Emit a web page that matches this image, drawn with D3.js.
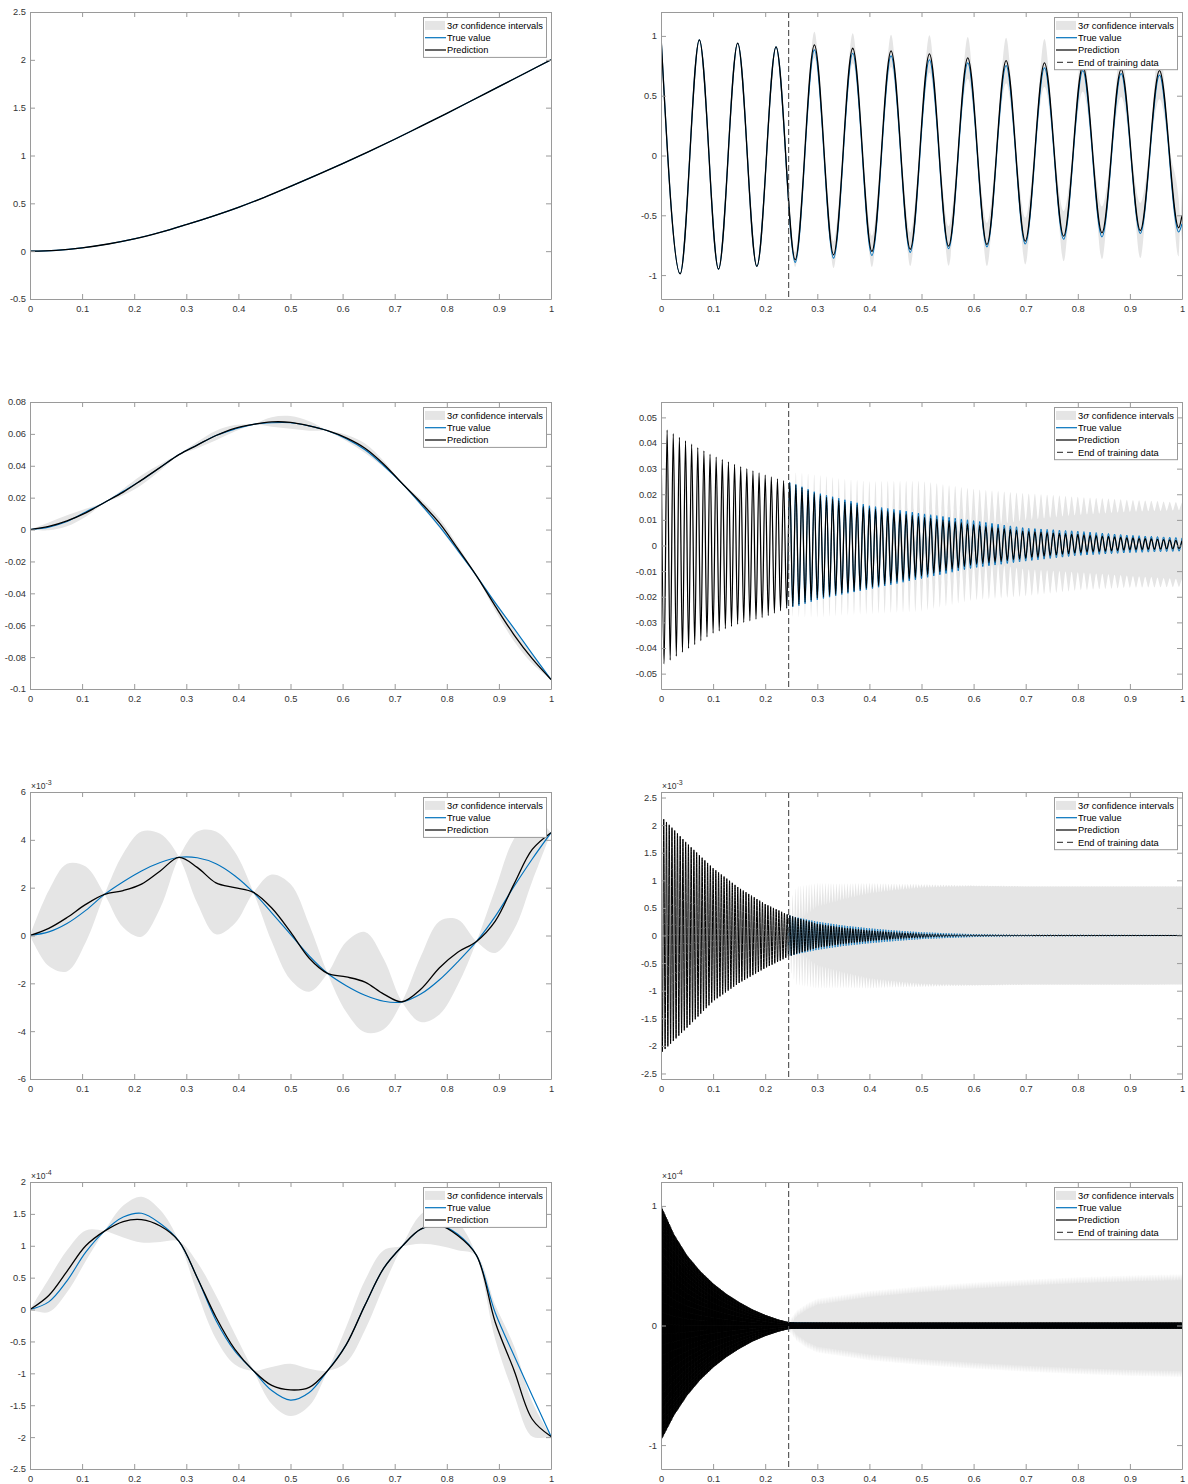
<!DOCTYPE html>
<html><head><meta charset="utf-8">
<script src="https://cdn.jsdelivr.net/npm/d3@7"></script>
<style>body{margin:0;background:#fff}svg{display:block}text{font-family:"Liberation Sans",Arial,Helvetica,sans-serif}</style>
</head><body>
<svg id="chart" width="1188" height="1484"></svg>
<script>
// ---------------- DATA ----------------
const xTicks = [0,0.1,0.2,0.3,0.4,0.5,0.6,0.7,0.8,0.9,1];
const legendLeft = ["confidence intervals","True value","Prediction"];
const legendRight = ["confidence intervals","True value","Prediction","End of training data"];
const trainEnd = 0.245;

// Panel A (row 1, left)
const aX = [0,0.05,0.1,0.15,0.2,0.25,0.3,0.35,0.4,0.45,0.5,0.55,0.6,0.65,0.7,0.75,0.8,0.85,0.9,0.95,1];
const aTrue = [0,0.009,0.035,0.075,0.128,0.197,0.278,0.364,0.458,0.563,0.677,0.795,0.915,1.04,1.17,1.305,1.44,1.58,1.72,1.86,2.0];
const aPred = [0,0.009,0.035,0.075,0.128,0.197,0.278,0.364,0.458,0.563,0.677,0.795,0.915,1.04,1.17,1.305,1.44,1.58,1.72,1.86,2.0];
const aYTicks = [-0.5,0,0.5,1,1.5,2,2.5];

// common grid for left panels C,E,G
const gridX = [0,0.036,0.071,0.107,0.143,0.179,0.214,0.25,0.286,0.321,0.357,0.393,0.429,0.464,0.5,0.536,0.571,0.607,0.643,0.679,0.714,0.75,0.786,0.821,0.857,0.893,0.929,0.964,1];

// Panel C (row 2, left)
const cTrue = [0,0.0015,0.005,0.011,0.017,0.024,0.031,0.039,0.047,0.053,0.059,0.063,0.066,0.067,0.067,0.065,0.062,0.057,0.05,0.04,0.029,0.016,0.002,-0.013,-0.029,-0.046,-0.062,-0.078,-0.094];
const cPred = [0,0.002,0.0055,0.0105,0.017,0.0235,0.031,0.039,0.047,0.053,0.059,0.0635,0.066,0.0675,0.0672,0.065,0.062,0.0575,0.051,0.041,0.029,0.017,0.004,-0.012,-0.029,-0.048,-0.066,-0.081,-0.094];
const cHW = [0,0.0025,0.0035,0.0025,0,-0.002,-0.003,-0.002,0,0.002,0.003,0.002,0,-0.003,-0.004,-0.003,0,0.002,0.003,0.002,0,-0.002,-0.003,-0.002,0,0.003,0.004,0.003,0];
const cYTicks = [-0.1,-0.08,-0.06,-0.04,-0.02,0,0.02,0.04,0.06,0.08];

// Panel E (row 3, left), units of 1e-3
const eTrue = [0,0.15,0.5,1.05,1.72,2.25,2.7,3.05,3.27,3.25,3.0,2.5,1.8,0.95,0.05,-0.85,-1.58,-2.1,-2.5,-2.75,-2.78,-2.45,-1.85,-1.1,-0.25,0.8,2.05,3.2,4.3];
const ePred = [0,0.3,0.75,1.3,1.72,1.88,2.15,2.7,3.27,2.85,2.2,2.0,1.8,1.15,0.15,-0.95,-1.58,-1.73,-1.95,-2.45,-2.77,-2.25,-1.35,-0.7,-0.25,0.6,2.15,3.6,4.3];
const eHW = [0,1.58,2.25,1.58,0,-1.55,-2.2,-1.55,0,1.5,2.15,1.5,0,-1.4,-2.0,-1.4,0,1.47,2.1,1.47,0,-1.37,-1.95,-1.37,0,1.33,1.9,1.33,0];
const eYTicks = [-6,-4,-2,0,2,4,6];

// Panel G (row 4, left), units of 1e-4
const gTrue = [0,0.12,0.45,0.9,1.23,1.45,1.51,1.35,1.07,0.5,-0.17,-0.65,-0.96,-1.27,-1.42,-1.3,-0.96,-0.55,0.07,0.65,0.99,1.26,1.32,1.18,0.85,-0.05,-0.72,-1.35,-1.99];
const gPred = [0,0.22,0.6,1.0,1.23,1.38,1.41,1.31,1.07,0.5,-0.12,-0.62,-0.96,-1.19,-1.26,-1.22,-0.96,-0.55,0.07,0.65,0.99,1.26,1.32,1.16,0.85,-0.2,-0.95,-1.72,-1.99];
const gHW = [0,0.26,0.33,0.24,0,-0.25,-0.36,-0.25,0,0.24,0.34,0.24,0,-0.29,-0.41,-0.29,0,0.28,0.39,0.28,0,-0.23,-0.32,-0.23,0,0.27,0.38,0.27,0];
const gYTicks = [-2.5,-2,-1.5,-1,-0.5,0,0.5,1,1.5,2];

// Panel B (row 1, right): extrema of the oscillation
const bX = [0,0.0368,0.0736,0.1104,0.1472,0.184,0.2208,0.2576,0.2944,0.3312,0.368,0.4048,0.4416,0.4784,0.5152,0.552,0.5888,0.6256,0.6624,0.6992,0.736,0.7728,0.8096,0.8464,0.8832,0.92,0.9568,0.9936,1.0];
const bPred = [1.0,-0.989,0.967,-0.95,0.939,-0.928,0.908,-0.872,0.925,-0.83,0.897,-0.802,0.875,-0.784,0.85,-0.757,0.816,-0.744,0.794,-0.716,0.774,-0.674,0.75,-0.646,0.72,-0.627,0.71,-0.604,-0.5];
const bTrue = [1.0,-0.989,0.967,-0.95,0.939,-0.928,0.908,-0.894,0.883,-0.858,0.855,-0.836,0.833,-0.81,0.80,-0.78,0.774,-0.764,0.752,-0.74,0.733,-0.70,0.71,-0.68,0.685,-0.652,0.672,-0.64,-0.57];
const bHW = [0,0,0,0,0,0,0,0.06,0.11,0.11,0.125,0.13,0.135,0.14,0.155,0.165,0.175,0.18,0.19,0.195,0.2,0.21,0.215,0.22,0.23,0.23,0.24,0.24,0.22];
const bYTicks = [-1,-0.5,0,0.5,1];

// Panel D (row 2, right): envelopes of a dense oscillation
const dCycles = 85;
const dX = [0,0.05,0.1,0.15,0.2,0.245,0.26,0.3,0.35,0.4,0.5,0.6,0.7,0.8,0.9,1.0];
const dPredPeak = [0.0464,0.0405,0.035,0.031,0.0275,0.0247,0.0235,0.0198,0.017,0.0146,0.0112,0.0081,0.0056,0.0043,0.003,0.0019];
const dPredTrough = [-0.047,-0.0405,-0.0342,-0.0305,-0.0278,-0.0242,-0.0232,-0.0205,-0.0185,-0.0164,-0.0119,-0.0074,-0.005,-0.0028,-0.0017,-0.0012];
const dTruePeak = [0.0464,0.0405,0.035,0.031,0.0275,0.0247,0.0238,0.0205,0.018,0.0155,0.0125,0.0097,0.0068,0.0056,0.004,0.003];
const dTrueTrough = [-0.047,-0.0405,-0.0342,-0.0305,-0.0278,-0.0242,-0.0238,-0.0212,-0.019,-0.017,-0.0129,-0.0087,-0.0061,-0.0039,-0.0028,-0.0022];
const dHW = [0,0,0,0,0,0.0035,0.005,0.0078,0.009,0.0105,0.014,0.014,0.0148,0.0147,0.0148,0.015];
const dYTicks = [-0.05,-0.04,-0.03,-0.02,-0.01,0,0.01,0.02,0.03,0.04,0.05];

// Panel F (row 3, right), units of 1e-3
const fCycles = 190;
const fX = [0,0.05,0.1,0.15,0.2,0.245,0.26,0.3,0.35,0.4,0.45,0.5,0.55,0.6,0.7,1.0];
const fPredPeak = [2.16,1.67,1.22,0.86,0.57,0.37,0.32,0.21,0.14,0.09,0.055,0.03,0.015,0.008,0.003,0.001];
const fPredTrough = [-2.13,-1.67,-1.19,-0.86,-0.59,-0.38,-0.33,-0.22,-0.15,-0.1,-0.06,-0.035,-0.018,-0.009,-0.004,-0.001];
const fTruePeak = [2.16,1.67,1.22,0.86,0.57,0.37,0.33,0.25,0.18,0.13,0.09,0.06,0.04,0.025,0.01,0.002];
const fTrueTrough = [-2.13,-1.67,-1.19,-0.86,-0.59,-0.38,-0.34,-0.26,-0.19,-0.14,-0.1,-0.065,-0.045,-0.028,-0.012,-0.002];
const fHW = [0,0,0,0,0,0.2,0.57,0.74,0.8,0.86,0.88,0.9,0.9,0.9,0.89,0.89];
const fYTicks = [-2.5,-2,-1.5,-1,-0.5,0,0.5,1,1.5,2,2.5];

// Panel H (row 4, right), units of 1e-4
const hCycles = 700;
const hX = [0,0.025,0.05,0.075,0.1,0.125,0.15,0.175,0.2,0.225,0.245,0.26,0.28,0.3,0.4,0.5,0.6,0.7,0.8,0.9,1.0];
const hPredPeak = [1.0,0.76,0.585,0.455,0.35,0.265,0.195,0.135,0.088,0.05,0.028,0.025,0.025,0.025,0.025,0.025,0.025,0.025,0.025,0.025,0.025];
const hPredTrough = [-0.96,-0.75,-0.585,-0.455,-0.35,-0.265,-0.195,-0.135,-0.088,-0.052,-0.03,-0.028,-0.028,-0.028,-0.028,-0.028,-0.028,-0.028,-0.028,-0.028,-0.028];
const hTruePeak = [1.0,0.76,0.585,0.455,0.35,0.265,0.195,0.135,0.088,0.05,0.028,0.024,0.023,0.022,0.02,0.02,0.02,0.02,0.02,0.02,0.02];
const hTrueTrough = [-0.96,-0.75,-0.585,-0.455,-0.35,-0.265,-0.195,-0.135,-0.088,-0.052,-0.03,-0.027,-0.026,-0.025,-0.022,-0.022,-0.022,-0.022,-0.022,-0.022,-0.022];
const hHW = [0,0,0,0,0,0,0,0,0,0,0.01,0.1,0.16,0.2,0.265,0.305,0.335,0.36,0.38,0.395,0.405];
const hYTicks = [-1,0,1];

// ---------------- DRAWING ----------------
const colX = [30, 661], rowY = [12, 402, 792, 1182], PW = 521, PH = 287;
const BAND = "#e5e5e5", BLUE = "#0072bd", BLACK = "#000", AXC = "#9a9a9a", TXT = "#333";
const FS = 9.3;
const svg = d3.select("#chart");
const defs = svg.append("defs");
const fmt = v => String(Math.round(v * 1e6) / 1e6);

function makePanel(id, col, row, yDomain) {
  const x0 = colX[col], y0 = rowY[row];
  const x = d3.scaleLinear().domain([0, 1]).range([x0, x0 + PW]);
  const y = d3.scaleLinear().domain(yDomain).range([y0 + PH, y0]);
  defs.append("clipPath").attr("id", "clip" + id).append("rect")
    .attr("x", x0).attr("y", y0).attr("width", PW).attr("height", PH);
  if (col === 1) {
    // region after the end of training (true value hidden under prediction before it)
    defs.append("clipPath").attr("id", "clipT" + id).append("rect")
      .attr("x", x(trainEnd) - 1).attr("y", y0).attr("width", x0 + PW - x(trainEnd) + 1).attr("height", PH);
  }
  const g = svg.append("g");
  const plot = g.append("g").attr("clip-path", `url(#clip${id})`);
  return {id, x, y, g, plot, x0, y0, x1: x0 + PW, y1: y0 + PH, right: col === 1};
}

function styleAxis(sel) {
  sel.select(".domain").attr("stroke", AXC).attr("stroke-width", 1);
  sel.selectAll(".tick line").attr("stroke", AXC).attr("stroke-width", 1);
  sel.selectAll(".tick text").attr("fill", TXT).attr("font-size", FS)
    .attr("font-family", '"Liberation Sans", Arial, sans-serif');
  sel.attr("font-family", null).attr("font-size", null);
}

function drawAxes(p, yTicks, expo) {
  const ax = p.g.append("g");
  styleAxis(ax.append("g").attr("transform", `translate(0,${p.y1})`)
    .call(d3.axisBottom(p.x).tickValues(xTicks).tickSizeInner(-5).tickSizeOuter(0).tickPadding(6.5).tickFormat(fmt)));
  styleAxis(ax.append("g").attr("transform", `translate(0,${p.y0})`)
    .call(d3.axisTop(p.x).tickValues(xTicks).tickSizeInner(-5).tickSizeOuter(0).tickFormat("")));
  styleAxis(ax.append("g").attr("transform", `translate(${p.x0},0)`)
    .call(d3.axisLeft(p.y).tickValues(yTicks).tickSizeInner(-5).tickSizeOuter(0).tickPadding(4).tickFormat(fmt)));
  styleAxis(ax.append("g").attr("transform", `translate(${p.x1},0)`)
    .call(d3.axisRight(p.y).tickValues(yTicks).tickSizeInner(-5).tickSizeOuter(0).tickFormat("")));
  if (expo) {
    const t = p.g.append("text").attr("x", p.x0 + 1).attr("y", p.y0 - 3)
      .attr("fill", TXT).attr("font-size", 8.5);
    t.append("tspan").text("\u00d710");
    t.append("tspan").attr("dy", -4).attr("font-size", 7).text(expo);
  }
}

function drawLegend(p) {
  const labels = p.right ? legendRight : legendLeft;
  const bw = 123, rowH = 12.3;
  const bx = p.x1 - 5 - bw, by = p.y0 + 5;
  const bh = labels.length * rowH + 3;
  const lg = p.g.append("g");
  lg.append("rect").attr("x", bx + 0.5).attr("y", by + 0.5).attr("width", bw).attr("height", bh)
    .attr("fill", "#fff").attr("stroke", AXC).attr("stroke-width", 1);
  labels.forEach((lab, i) => {
    const cy = by + 8.4 + i * rowH;
    if (i === 0) {
      lg.append("rect").attr("x", bx + 2).attr("y", cy - 4.5).attr("width", 20).attr("height", 9).attr("fill", BAND);
    } else if (i === 1) {
      lg.append("line").attr("x1", bx + 2).attr("x2", bx + 23).attr("y1", cy).attr("y2", cy).attr("stroke", BLUE).attr("stroke-width", 1.2);
    } else if (i === 2) {
      lg.append("line").attr("x1", bx + 2).attr("x2", bx + 23).attr("y1", cy).attr("y2", cy).attr("stroke", BLACK).attr("stroke-width", 1.2);
    } else {
      lg.append("line").attr("x1", bx + 3).attr("x2", bx + 23).attr("y1", cy).attr("y2", cy).attr("stroke", "#4d4d4d")
        .attr("stroke-width", 1.2).attr("stroke-dasharray", "6,4");
    }
    const t = lg.append("text").attr("x", bx + 24).attr("y", cy).attr("dy", "0.35em")
      .attr("font-size", FS).attr("fill", "#000");
    if (i === 0) {
      t.append("tspan").text("3");
      t.append("tspan").attr("font-style", "italic").attr("font-family", '"DejaVu Serif", serif').attr("font-size", FS - 0.5).text("\u03c3");
      t.append("tspan").text(" " + lab);
    } else t.text(lab);
  });
}

function drawTrainLine(p) {
  p.plot.append("line").attr("x1", p.x(trainEnd)).attr("x2", p.x(trainEnd))
    .attr("y1", p.y0).attr("y2", p.y1).attr("stroke", "#4d4d4d").attr("stroke-width", 1.1)
    .attr("stroke-dasharray", "6,3");
}

// smooth panels (left column)
function drawSmooth(p, xs, tru, pred, hw) {
  const curve = d3.curveCatmullRom.alpha(0.5);
  if (hw) {
    const area = d3.area().x((d, i) => p.x(xs[i]))
      .y0((d, i) => p.y(pred[i] - hw[i])).y1((d, i) => p.y(pred[i] + hw[i])).curve(curve);
    p.plot.append("path").attr("d", area(xs)).attr("fill", BAND);
  }
  const line = arr => d3.line().x((d, i) => p.x(xs[i])).y((d, i) => p.y(arr[i])).curve(curve)(xs);
  p.plot.append("path").attr("d", line(tru)).attr("fill", "none").attr("stroke", BLUE).attr("stroke-width", 1.15);
  p.plot.append("path").attr("d", line(pred)).attr("fill", "none").attr("stroke", BLACK).attr("stroke-width", 1.3);
}

// oscillating panels: knots are extrema [x, value]
function knotsFromArrays(xs, vals) { return xs.map((x, i) => [x, vals[i]]); }
function denseKnots(xs, peak, trough, cycles) {
  const pk = d3.scaleLinear().domain(xs).range(peak);
  const tr = d3.scaleLinear().domain(xs).range(trough);
  const n = 2 * cycles, pts = [];
  for (let j = 0; j <= n; j++) { const xx = j / n; pts.push([xx, j % 2 === 0 ? pk(xx) : tr(xx)]); }
  return pts;
}
function bandPoints(knots, hwAt, ratio, start) {
  const pts = [];
  for (let i = 0; i < knots.length; i++) {
    if (i > 0) {
      const a = knots[i - 1], b = knots[i], mx = (a[0] + b[0]) / 2;
      pts.push({x: mx, p: (a[1] + b[1]) / 2, h: hwAt(mx, i - 0.5) * ratio});
    }
    pts.push({x: knots[i][0], p: knots[i][1], h: hwAt(knots[i][0], i)});
  }
  return pts.filter(d => d.x >= start);
}
function drawOsc(p, trueKnots, predKnots, band, lwTrue, lwPred, clipTrue) {
  const area = d3.area().x(d => p.x(d.x)).y0(d => p.y(d.p - d.h)).y1(d => p.y(d.p + d.h)).curve(d3.curveMonotoneX);
  p.plot.append("path").attr("d", area(band)).attr("fill", BAND);
  const line = d3.line().x(d => p.x(d[0])).y(d => p.y(d[1])).curve(d3.curveMonotoneX);
  const tg = clipTrue ? p.plot.append("g").attr("clip-path", `url(#clipT${p.id})`) : p.plot;
  tg.append("path").attr("d", line(trueKnots)).attr("fill", "none").attr("stroke", BLUE).attr("stroke-width", lwTrue);
  p.plot.append("path").attr("d", line(predKnots)).attr("fill", "none").attr("stroke", BLACK).attr("stroke-width", lwPred);
}

// ---- Panel A
{
  const p = makePanel("A", 0, 0, [-0.5, 2.5]);
  drawSmooth(p, aX, aTrue, aPred, null);
  drawAxes(p, aYTicks, null); drawLegend(p);
}
// ---- Panel B
{
  const p = makePanel("B", 1, 0, [-1.2, 1.2]);
  const pk = knotsFromArrays(bX, bPred), tk = knotsFromArrays(bX, bTrue);
  const hwAt = (x, i) => Number.isInteger(i) ? bHW[i] : (bHW[i - 0.5] + bHW[i + 0.5]) / 2;
  drawOsc(p, tk, pk, bandPoints(pk, hwAt, 0.15, 0), 1.15, 1.3, false);
  drawTrainLine(p); drawAxes(p, bYTicks, null); drawLegend(p);
}
// ---- Panel C
{
  const p = makePanel("C", 0, 1, [-0.1, 0.08]);
  drawSmooth(p, gridX, cTrue, cPred, cHW);
  drawAxes(p, cYTicks, null); drawLegend(p);
}
// ---- Panel D
{
  const p = makePanel("D", 1, 1, [-0.056, 0.056]);
  const pk = denseKnots(dX, dPredPeak, dPredTrough, dCycles), tk = denseKnots(dX, dTruePeak, dTrueTrough, dCycles);
  const hs = d3.scaleLinear().domain(dX).range(dHW);
  drawOsc(p, tk, pk, bandPoints(pk, x => hs(x), 1, trainEnd), 1.0, 1.25, true);
  drawTrainLine(p); drawAxes(p, dYTicks, null); drawLegend(p);
}
// ---- Panel E
{
  const p = makePanel("E", 0, 2, [-6, 6]);
  drawSmooth(p, gridX, eTrue, ePred, eHW);
  drawAxes(p, eYTicks, "-3"); drawLegend(p);
}
// ---- Panel F
{
  const p = makePanel("F", 1, 2, [-2.6, 2.6]);
  const pk = denseKnots(fX, fPredPeak, fPredTrough, fCycles), tk = denseKnots(fX, fTruePeak, fTrueTrough, fCycles);
  const hs = d3.scaleLinear().domain(fX).range(fHW);
  drawOsc(p, tk, pk, bandPoints(pk, x => hs(x), 1, trainEnd), 0.8, 1.0, true);
  drawTrainLine(p); drawAxes(p, fYTicks, "-3"); drawLegend(p);
}
// ---- Panel G
{
  const p = makePanel("G", 0, 3, [-2.5, 2]);
  drawSmooth(p, gridX, gTrue, gPred, gHW);
  drawAxes(p, gYTicks, "-4"); drawLegend(p);
}
// ---- Panel H
{
  const p = makePanel("H", 1, 3, [-1.2, 1.2]);
  const pk = denseKnots(hX, hPredPeak, hPredTrough, hCycles), tk = denseKnots(hX, hTruePeak, hTrueTrough, hCycles);
  const hs = d3.scaleLinear().domain(hX).range(hHW);
  drawOsc(p, tk, pk, bandPoints(pk, x => hs(x), 1, trainEnd), 0.8, 1.0, true);
  drawTrainLine(p); drawAxes(p, hYTicks, "-4"); drawLegend(p);
}
</script>
</body></html>
